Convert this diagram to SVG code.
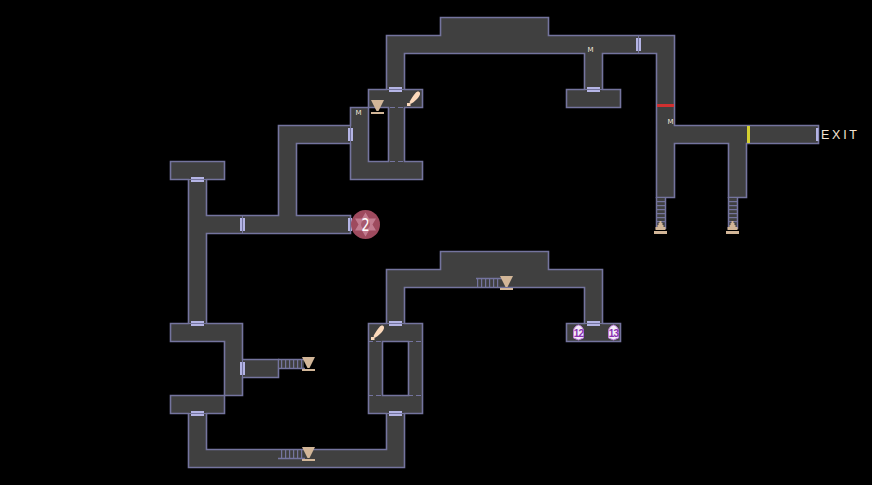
<svg xmlns="http://www.w3.org/2000/svg" width="872" height="485" viewBox="0 0 872 485">
<style>
.wall{fill:#404040;stroke:#74749e;stroke-width:1.6}
.ln{stroke:#74749e;stroke-width:1.5;fill:none}
.thin{stroke:#74749e;stroke-width:1;fill:none}
.dash{stroke:#74749e;stroke-width:1.2;fill:none;stroke-dasharray:5 3}
.door{fill:#b4b4e4}
.tan{fill:#d2b698}
.club{fill:#fcd9bb}
.m{font:7px "DejaVu Sans",sans-serif;fill:#f0e6d8;text-anchor:middle}
.gem{fill:#f4ecf8;stroke:#b878d8;stroke-width:1}
.gt{font:bold 10px "Liberation Sans",sans-serif;fill:#8a30b0;text-anchor:middle;letter-spacing:-.8px}
.st{fill:#404040}
</style>
<defs>
<g id="cup"><path class="tan" d="M-6.500,-6H6.500L1,5H-1Z"/><rect class="tan" x="-6.500" y="6" width="13" height="2"/></g>
<g id="hat"><path class="tan" d="M-1,-6H1V-4H2V-2H3V0H5V3H-5V0H-3V-2H-2V-4H-1Z"/><rect class="tan" x="-6.500" y="4" width="13" height="3"/></g>
<g id="clubp"><path class="club" d="M-4,3.500C-3,1 0,-3 2,-5.500C3.500,-7.500 6,-7.500 6.500,-5.500C7,-3.500 5,-1 3,1C1,3 -1,4.500 -3,5.500Z"/><rect class="club" x="-6.500" y="4.500" width="3.500" height="3"/></g>
<pattern id="rv" width="4" height="4" patternUnits="userSpaceOnUse" x="1"><rect width="1.200" height="4" fill="#74749e"/></pattern>
<pattern id="rh" width="4" height="4" patternUnits="userSpaceOnUse" y="1"><rect width="4" height="1.200" fill="#74749e"/></pattern>
</defs>
<rect width="872" height="485" fill="#000"/>
<g id="map">
<path class="wall" fill-rule="evenodd" d="M386.500,35.500H440.500V17.500H548.500V35.500H674.500V125.500H818.500V143.500H746.500V197.500H737.500H728.500V143.500H674.500V197.500H665.500H656.500V53.500H602.500V89.500H620.500V107.500H566.500V89.500H584.500V53.500H404.500V89.500H422.500V107.500H404.500V161.500H422.500V179.500H350.500V143.500H296.500V215.500H350.500V233.500H206.500V323.500H242.500V359.500H278.500V377.500H242.500V395.500H224.500V413.500H206.500V449.500H386.500V413.500H368.500V323.500H386.500V269.500H440.500V251.500H548.500V269.500H602.500V323.500H620.500V341.500H566.500V323.500H584.500V287.500H404.500V323.500H422.500V413.500H404.500V467.500H188.500V413.500H170.500V395.500H224.500V341.500H170.500V323.500H188.500V179.500H170.500V161.500H224.500V179.500H206.500V215.500H278.500V125.500H350.500V107.500H368.500V89.500H386.500Z M368.500,107.500H388.500V161.500H368.500Z M382.500,341.500H408.500V395.500H382.500Z"/>
</g>
<g id="connectors">
<path class="dash" d="M368,107.500H382M390,107.500H404M390,161.500H404M368,341.500H382M408,341.500H422M368,395.500H382M408,395.500H422"/>
<rect class="st" x="657" y="198" width="8" height="30"/>
<rect class="st" x="729" y="198" width="8" height="30"/>
<rect class="st" x="279" y="360" width="25" height="8"/>
<rect x="657" y="199" width="8" height="26" fill="url(#rh)"/>
<rect x="729" y="199" width="8" height="26" fill="url(#rh)"/>
<rect x="280" y="360" width="24" height="8" fill="url(#rv)"/>
<rect x="477" y="279" width="24" height="8" fill="url(#rv)"/>
<rect x="280" y="450" width="24" height="8" fill="url(#rv)"/>
<path class="ln" d="M656.500,197V229M665.500,197V229M728.500,197V229M737.500,197V229M278,359.500H305M278,368.500H305M476,278.500H505M278,458.500H305"/>
</g>
<g id="doors">
<rect class="door" x="389" y="87" width="13" height="5"/>
<rect class="door" x="587" y="87" width="13" height="5"/>
<rect class="door" x="389" y="321" width="13" height="5"/>
<rect class="door" x="587" y="321" width="13" height="5"/>
<rect class="door" x="389" y="411" width="13" height="5"/>
<rect class="door" x="191" y="411" width="13" height="5"/>
<rect class="door" x="191" y="321" width="13" height="5"/>
<rect class="door" x="191" y="177" width="13" height="5"/>
<rect class="door" x="348" y="128" width="5" height="13"/>
<rect class="door" x="240" y="218" width="5" height="13"/>
<rect class="door" x="348" y="218" width="4" height="13"/>
<rect class="door" x="240" y="362" width="5" height="13"/>
<rect class="door" x="636" y="38" width="5" height="13"/>
<path class="thin" d="M387,89.500H404M585,89.500H602M387,323.500H404M585,323.500H602M387,413.500H404M189,413.500H206M189,323.500H206M189,179.500H206M350.500,125V143M242.500,215V233M350.500,215V233M242.500,359V377M638.500,35V53"/>
<rect x="657" y="104" width="17" height="3" fill="#d03030"/>
<rect x="747" y="126" width="3" height="17" fill="#d4d030"/>
<rect class="door" x="816" y="128" width="2.500" height="13"/>
</g>
<g id="exit"><text x="821" y="139" font-family="Liberation Sans, sans-serif" font-size="12.500" textLength="36" lengthAdjust="spacing" fill="#f4e4d4">EXIT</text></g>
<g id="marks">
<text class="m" x="358.500" y="114.500">M</text>
<text class="m" x="590.500" y="52">M</text>
<text class="m" x="670.500" y="124">M</text>
</g>
<g id="cups">
<use href="#cup" x="377.500" y="106"/>
<use href="#cup" x="506.500" y="282"/>
<use href="#cup" x="308.500" y="363"/>
<use href="#cup" x="308.500" y="453"/>
<use href="#hat" x="660.500" y="227"/>
<use href="#hat" x="732.500" y="227"/>
</g>
<g id="clubs">
<use href="#clubp" x="413.500" y="98.500"/>
<use href="#clubp" x="377.500" y="332.500"/>
</g>
<g id="enemy">
<circle cx="365.500" cy="224.500" r="14.500" fill="#9e4a5e"/>
<path fill="#c27c90" d="M365.500,212.500L376,230.500H355ZM365.500,236.500L355,218.500H376Z"/>
<circle cx="365.500" cy="224.500" r="4.500" fill="#a85a6e"/>
<text transform="translate(365.500 231) scale(.75 1)" font-family="DejaVu Sans, sans-serif" font-size="17" fill="#fff" text-anchor="middle">2</text>
</g>
<g id="gems">
<path class="gem" d="M573.500,331C573.500,328 576,325.500 578.500,325C581,325.500 583.500,328 583.500,331V338L578.500,340L573.500,338Z"/>
<text class="gt" x="578.500" y="337">12</text>
<path class="gem" d="M608.500,331C608.500,328 611,325.500 613.500,325C616,325.500 618.500,328 618.500,331V338L613.500,340L608.500,338Z"/>
<text class="gt" x="613.500" y="337">13</text>
</g>
</svg>
